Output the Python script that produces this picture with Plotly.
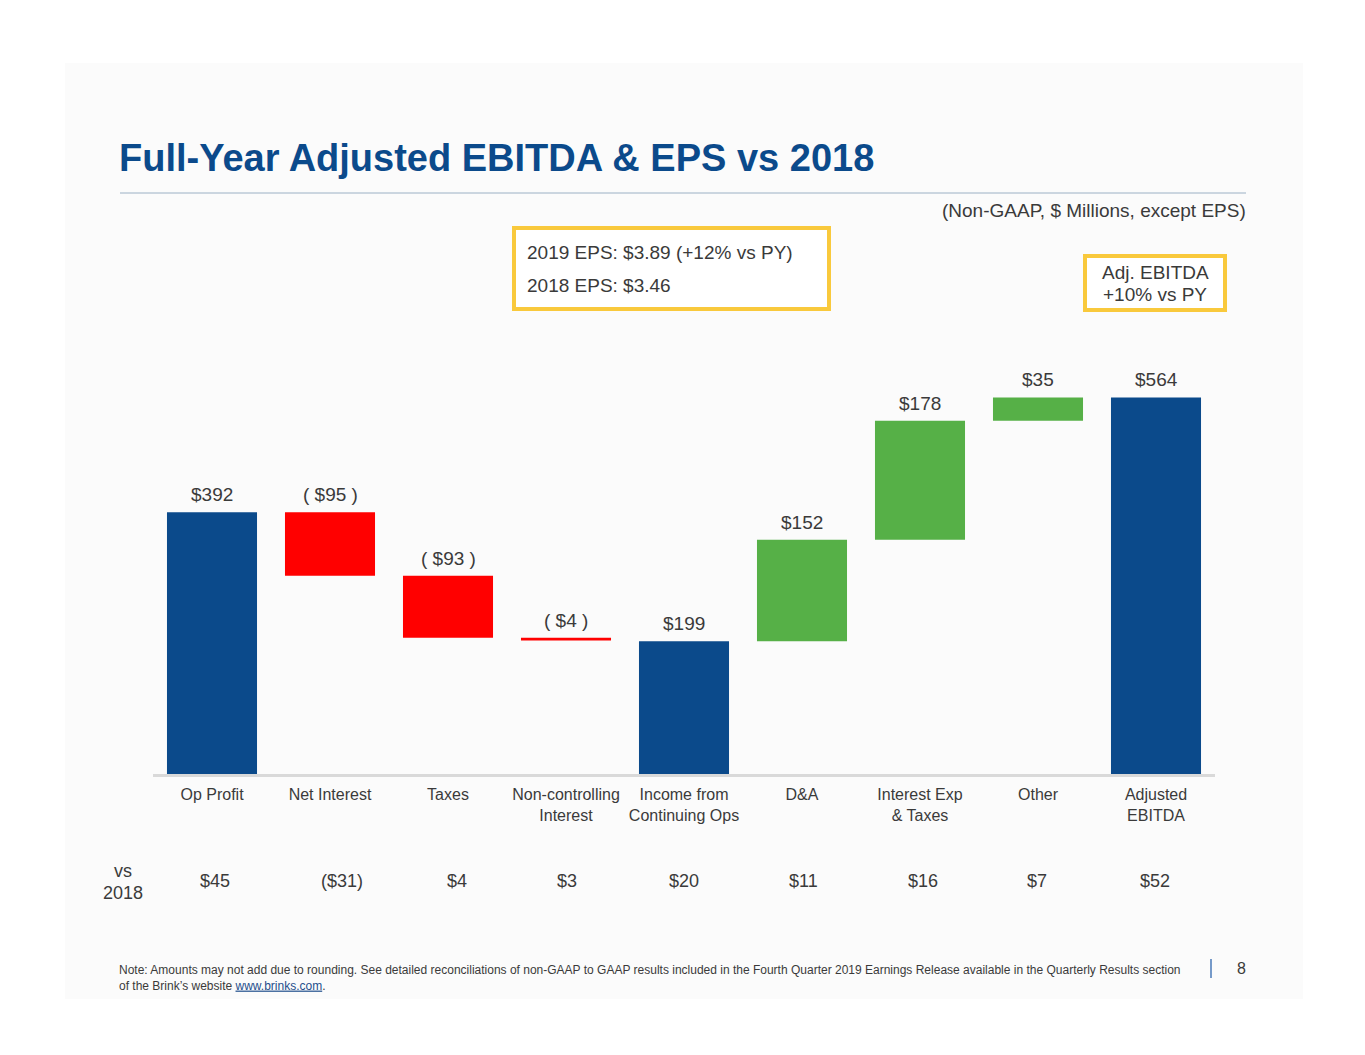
import plotly.graph_objects as go

# Data
categories = ['Op Profit', 'Net Interest', 'Taxes', 'Non-controlling<br>Interest',
              'Income from<br>Continuing Ops', 'D&A', 'Interest Exp<br>& Taxes',
              'Other', 'Adjusted<br>EBITDA']
measures = ['absolute', 'relative', 'relative', 'relative', 'absolute',
            'relative', 'relative', 'relative', 'absolute']
values = [392, -95, -93, -4, 199, 152, 178, 35, 564]
bar_labels = ['$392', '( $95 )', '( $93 )', '( $4 )', '$199',
              '$152', '$178', '$35', '$564']
vs_2018 = ['$45', '($31)', '$4', '$3', '$20', '$11', '$16', '$7', '$52']

# Colours
BLUE = '#0b4a8b'
RED = '#ff0000'
GREEN = '#56b047'
YELLOW = '#f9c93c'
TEXT = '#3a3a3a'
FONT = 'Liberation Sans, Arial, sans-serif'

# work out bar tops from the waterfall steps (for the labels)
tops = []
running = 0
for m, v in zip(measures, values):
    if m == 'absolute':
        running = v
        tops.append(v)
    else:
        start = running
        running = running + v
        tops.append(max(start, running))

x = list(range(len(categories)))

# page is drawn with an 8px body margin, so work in page pixels minus that
OFF = 8
W, H = 1365, 1055
pl, pt = 153 - OFF, 330 - OFF
pr = W - (1215 - OFF)
pb = H - (774 - OFF)
pw, ph = W - pl - pr, H - pt - pb


def px(xp):
    return (xp - OFF - pl) / pw


def py(yp):
    return (H - pb - (yp - OFF)) / ph


fig = go.Figure(go.Waterfall(
    x=x, y=values, measure=measures,
    base=0,
    increasing=dict(marker=dict(color=GREEN)),
    decreasing=dict(marker=dict(color=RED)),
    totals=dict(marker=dict(color=BLUE)),
    connector=dict(visible=False),
    width=0.763,
    hoverinfo='skip',
    showlegend=False,
))

# value labels above each bar
for i, (t, lab) in enumerate(zip(tops, bar_labels)):
    fig.add_annotation(x=i, y=t, text=lab, showarrow=False, xanchor='center',
                       yanchor='bottom', yshift=5,
                       font=dict(size=19, color=TEXT, family=FONT))

# vs 2018 row
vs_shift = [3, 12, 9, 1, 0, 1, 3, -1, -1]
for i, (lab, dx) in enumerate(zip(vs_2018, vs_shift)):
    fig.add_annotation(x=i, y=py(881), yref='paper', text=lab, showarrow=False,
                       xanchor='center', yanchor='middle', xshift=dx,
                       font=dict(size=18, color=TEXT, family=FONT))

fig.update_layout(
    width=W, height=H,
    margin=dict(l=pl, r=pr, t=pt, b=pb),
    paper_bgcolor='white',
    plot_bgcolor='rgba(0,0,0,0)',
    font=dict(family=FONT, color=TEXT),
    xaxis=dict(
        range=[-0.5, 8.5], tickmode='array', tickvals=x, ticktext=categories,
        showgrid=False, zeroline=False, showline=True, linecolor='#d9d9d9',
        linewidth=3, ticks='', ticklabelstandoff=4,
        tickfont=dict(size=16, color=TEXT, family=FONT),
        fixedrange=True,
    ),
    yaxis=dict(range=[0, 665], visible=False, fixedrange=True),
)

shapes = [
    # slide background
    dict(type='rect', xref='paper', yref='paper', x0=px(65), x1=px(1303),
         y0=py(999), y1=py(63), fillcolor='#fbfbfb', line=dict(width=0), layer='below'),
    # title rule
    dict(type='line', xref='paper', yref='paper', x0=px(120), x1=px(1246),
         y0=py(193), y1=py(193), line=dict(color='#9bb0c4', width=1)),
    # EPS box
    dict(type='rect', xref='paper', yref='paper', x0=px(514), x1=px(829),
         y0=py(309), y1=py(228), fillcolor='white', line=dict(color=YELLOW, width=4)),
    # EBITDA box
    dict(type='rect', xref='paper', yref='paper', x0=px(1085), x1=px(1225),
         y0=py(310), y1=py(256), fillcolor='white', line=dict(color=YELLOW, width=4)),
    # page number bar
    dict(type='line', xref='paper', yref='paper', x0=px(1211), x1=px(1211),
         y0=py(978), y1=py(959), line=dict(color='#4a7ab8', width=1.5)),
]
fig.update_layout(shapes=shapes)


def note(xp, yp, text, size, color=TEXT, xanchor='left', align='left'):
    fig.add_annotation(xref='paper', yref='paper', x=px(xp), y=py(yp), text=text,
                       showarrow=False, xanchor=xanchor, yanchor='middle', align=align,
                       font=dict(size=size, color=color, family=FONT))


note(117, 158, '<b>Full-Year Adjusted EBITDA & EPS vs 2018</b>', 38, color=BLUE)
note(1248, 210, '(Non-GAAP, $ Millions, except EPS)', 19, xanchor='right')
note(525, 252, '2019 EPS: $3.89 (+12% vs PY)', 19)
note(525, 285, '2018 EPS: $3.46', 19)
note(1155, 272, 'Adj. EBITDA', 19, xanchor='center')
note(1155, 294, '+10% vs PY', 19, xanchor='center')
note(123, 871, 'vs', 18, xanchor='center')
note(123, 893, '2018', 18, xanchor='center')
note(117, 978, 'Note: Amounts may not add due to rounding. See detailed reconciliations of '
     'non-GAAP to GAAP results included in the Fourth Quarter 2019 Earnings Release '
     'available in the Quarterly Results section<br>of the Brink\u2019s website '
     '<span style="color:#1f4e8c"><u>www.brinks.com</u></span>.', 12)
note(1241, 968, '8', 16, xanchor='center')

fig.write_html('out.html')
